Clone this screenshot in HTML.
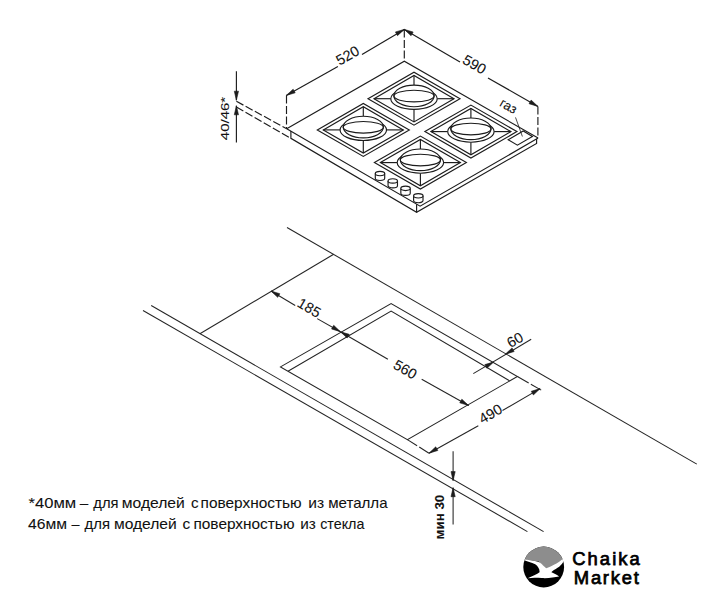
<!DOCTYPE html>
<html><head><meta charset="utf-8">
<style>
html,body{margin:0;padding:0;background:#fff;}
body{width:725px;height:603px;overflow:hidden;position:relative;}
svg{position:absolute;left:0;top:0;}
text{font-family:"Liberation Sans",sans-serif;fill:#111;stroke:#111;stroke-width:0.08px;}
.logo text{stroke:#000;stroke-width:0.75px;fill:#000}
</style></head><body>
<svg width="725" height="603" viewBox="0 0 725 603">
<g fill="none" stroke="#1c1c1c" stroke-width="1.15" stroke-linecap="butt" stroke-linejoin="miter">
<polyline points="286.70,128.70 404.30,61.20 538.10,138.10" fill="none"/>
<polyline points="286.70,128.70 420.10,206.20 538.10,138.10" fill="none"/>
<polyline points="290.90,131.10 290.90,138.30 416.60,212.30 536.60,143.40 536.60,139.00" fill="none"/>
<line x1="416.60" y1="204.20" x2="416.60" y2="212.30"/>
<polygon points="317.30,129.90 363.30,103.40 409.30,129.90 363.30,156.40" fill="none"/>
<polygon points="323.30,129.90 363.30,106.70 403.30,129.90 363.30,153.10" fill="none"/>
<line x1="323.30" y1="129.90" x2="340.10" y2="129.90"/>
<line x1="386.50" y1="129.90" x2="403.30" y2="129.90"/>
<line x1="363.30" y1="106.70" x2="363.30" y2="116.30"/>
<line x1="363.30" y1="140.50" x2="363.30" y2="153.10"/>
<ellipse cx="363.30" cy="129.90" rx="23.2" ry="10.6" fill="#fff"/>
<ellipse cx="363.30" cy="127.10" rx="20.1" ry="10.8" fill="#fff"/>
<ellipse cx="363.30" cy="127.30" rx="20.1" ry="5.8" fill="none"/>
<polygon points="368.00,98.70 414.00,72.20 460.00,98.70 414.00,125.20" fill="none"/>
<polygon points="374.00,98.70 414.00,75.50 454.00,98.70 414.00,121.90" fill="none"/>
<line x1="374.00" y1="98.70" x2="390.80" y2="98.70"/>
<line x1="437.20" y1="98.70" x2="454.00" y2="98.70"/>
<line x1="414.00" y1="75.50" x2="414.00" y2="85.10"/>
<line x1="414.00" y1="109.30" x2="414.00" y2="121.90"/>
<ellipse cx="414.00" cy="98.70" rx="23.2" ry="10.6" fill="#fff"/>
<ellipse cx="414.00" cy="95.90" rx="20.1" ry="10.8" fill="#fff"/>
<ellipse cx="414.00" cy="96.10" rx="20.1" ry="5.8" fill="none"/>
<polygon points="424.90,131.60 470.90,105.10 516.90,131.60 470.90,158.10" fill="none"/>
<polygon points="430.90,131.60 470.90,108.40 510.90,131.60 470.90,154.80" fill="none"/>
<line x1="430.90" y1="131.60" x2="447.70" y2="131.60"/>
<line x1="494.10" y1="131.60" x2="510.90" y2="131.60"/>
<line x1="470.90" y1="108.40" x2="470.90" y2="118.00"/>
<line x1="470.90" y1="142.20" x2="470.90" y2="154.80"/>
<ellipse cx="470.90" cy="131.60" rx="23.2" ry="10.6" fill="#fff"/>
<ellipse cx="470.90" cy="128.80" rx="20.1" ry="10.8" fill="#fff"/>
<ellipse cx="470.90" cy="129.00" rx="20.1" ry="5.8" fill="none"/>
<polygon points="374.40,162.60 420.40,136.10 466.40,162.60 420.40,189.10" fill="none"/>
<polygon points="380.40,162.60 420.40,139.40 460.40,162.60 420.40,185.80" fill="none"/>
<line x1="380.40" y1="162.60" x2="397.20" y2="162.60"/>
<line x1="443.60" y1="162.60" x2="460.40" y2="162.60"/>
<line x1="420.40" y1="139.40" x2="420.40" y2="149.00"/>
<line x1="420.40" y1="173.20" x2="420.40" y2="185.80"/>
<ellipse cx="420.40" cy="162.60" rx="23.2" ry="10.6" fill="#fff"/>
<ellipse cx="420.40" cy="159.80" rx="20.1" ry="10.8" fill="#fff"/>
<ellipse cx="420.40" cy="160.00" rx="20.1" ry="5.8" fill="none"/>
<path d="M375.30,173.50 L375.30,178.30 A4.7,2.2 0 0 0 384.70,178.30 L384.70,173.50" fill="#fff"/>
<ellipse cx="380.00" cy="173.50" rx="4.7" ry="2.2" fill="#fff"/>
<path d="M388.07,180.93 L388.07,185.73 A4.7,2.2 0 0 0 397.47,185.73 L397.47,180.93" fill="#fff"/>
<ellipse cx="392.77" cy="180.93" rx="4.7" ry="2.2" fill="#fff"/>
<path d="M400.84,188.36 L400.84,193.16 A4.7,2.2 0 0 0 410.24,193.16 L410.24,188.36" fill="#fff"/>
<ellipse cx="405.54" cy="188.36" rx="4.7" ry="2.2" fill="#fff"/>
<path d="M413.61,195.79 L413.61,200.59 A4.7,2.2 0 0 0 423.01,200.59 L423.01,195.79" fill="#fff"/>
<ellipse cx="418.31" cy="195.79" rx="4.7" ry="2.2" fill="#fff"/>
<polygon points="508.20,139.70 517.40,145.20 532.40,136.50 523.20,131.00" fill="none"/>
<line x1="515.50" y1="117.40" x2="522.40" y2="136.50" stroke-width="0.8"/>
<line x1="286.50" y1="95.40" x2="286.50" y2="128.70" stroke-dasharray="8,2.5"/>
<line x1="404.30" y1="29.40" x2="404.30" y2="61.20" stroke-dasharray="8,2.5"/>
<line x1="537.90" y1="106.40" x2="537.90" y2="138.10" stroke-dasharray="8,2.5"/>
<line x1="286.30" y1="95.40" x2="337.90" y2="66.40"/>
<line x1="362.00" y1="54.50" x2="404.30" y2="29.40"/>
<line x1="404.30" y1="29.40" x2="460.00" y2="62.00"/>
<line x1="488.00" y1="78.00" x2="537.90" y2="106.40"/>
<polygon points="286.30,95.40 293.13,89.17 295.18,92.84" fill="#1c1c1c" stroke="#1c1c1c" stroke-width="0.6" stroke-linejoin="miter"/>
<polygon points="404.30,29.40 397.47,35.63 395.42,31.96" fill="#1c1c1c" stroke="#1c1c1c" stroke-width="0.6" stroke-linejoin="miter"/>
<polygon points="404.30,29.40 413.15,32.07 411.05,35.71" fill="#1c1c1c" stroke="#1c1c1c" stroke-width="0.6" stroke-linejoin="miter"/>
<polygon points="537.90,106.40 529.05,103.73 531.15,100.09" fill="#1c1c1c" stroke="#1c1c1c" stroke-width="0.6" stroke-linejoin="miter"/>
<text x="347.50" y="55.50" font-size="14.5" text-anchor="middle" dominant-baseline="central" transform="rotate(-29.50 347.50 55.50)" >520</text>
<text x="474.50" y="64.50" font-size="14.5" text-anchor="middle" dominant-baseline="central" transform="rotate(29.80 474.50 64.50)" >590</text>
<text x="508.50" y="106.00" font-size="13" text-anchor="middle" dominant-baseline="central" transform="rotate(30.00 508.50 106.00)" >газ</text>
<line x1="236.40" y1="71.30" x2="236.40" y2="100.20"/>
<line x1="236.40" y1="105.80" x2="236.40" y2="142.50"/>
<polygon points="236.40,100.20 234.30,91.20 238.50,91.20" fill="#1c1c1c" stroke="#1c1c1c" stroke-width="0.6" stroke-linejoin="miter"/>
<polygon points="236.40,105.80 238.50,114.80 234.30,114.80" fill="#1c1c1c" stroke="#1c1c1c" stroke-width="0.6" stroke-linejoin="miter"/>
<line x1="236.40" y1="101.30" x2="286.70" y2="128.70" stroke-dasharray="8,2.5"/>
<line x1="236.40" y1="107.00" x2="290.90" y2="138.30" stroke-dasharray="8,2.5"/>
<text transform="translate(228.6,140.2) rotate(-90)" x="0" y="0" font-size="11.5" textLength="43.4" lengthAdjust="spacingAndGlyphs">40/46*</text>
</g><g fill="none" stroke="#242424" stroke-width="1.05">
<line x1="287.00" y1="227.50" x2="696.80" y2="464.10"/>
<line x1="151.20" y1="305.50" x2="543.60" y2="531.60"/>
<line x1="143.00" y1="310.50" x2="527.40" y2="531.60"/>
<line x1="199.90" y1="333.70" x2="333.70" y2="254.20"/>
<polygon points="280.50,366.90 391.10,303.60 517.40,376.50 407.40,439.60" fill="none"/>
<polyline points="288.00,371.20 391.10,311.10 509.50,380.70" fill="none"/>
<line x1="517.40" y1="376.50" x2="541.20" y2="390.10" stroke-dasharray="13,2.5"/>
<line x1="407.40" y1="439.60" x2="429.00" y2="453.20" stroke-dasharray="11.5,2.5"/>
<line x1="271.00" y1="291.00" x2="295.20" y2="305.50"/>
<line x1="317.20" y1="318.60" x2="340.40" y2="331.70"/>
<polygon points="271.00,291.00 279.83,293.74 277.70,297.36" fill="#1c1c1c" stroke="#1c1c1c" stroke-width="0.6" stroke-linejoin="miter"/>
<polygon points="340.40,331.70 331.57,328.96 333.70,325.34" fill="#1c1c1c" stroke="#1c1c1c" stroke-width="0.6" stroke-linejoin="miter"/>
<text x="309.30" y="307.80" font-size="14.5" text-anchor="middle" dominant-baseline="central" transform="rotate(30.00 309.30 307.80)" >185</text>
<line x1="340.40" y1="331.70" x2="387.90" y2="359.30"/>
<line x1="421.70" y1="379.30" x2="468.60" y2="405.50"/>
<polygon points="340.40,331.70 349.25,334.37 347.15,338.01" fill="#1c1c1c" stroke="#1c1c1c" stroke-width="0.6" stroke-linejoin="miter"/>
<polygon points="468.60,405.50 459.75,402.83 461.85,399.19" fill="#1c1c1c" stroke="#1c1c1c" stroke-width="0.6" stroke-linejoin="miter"/>
<text x="405.20" y="369.50" font-size="14.5" text-anchor="middle" dominant-baseline="central" transform="rotate(30.00 405.20 369.50)" >560</text>
<line x1="473.30" y1="373.60" x2="531.20" y2="339.30"/>
<polygon points="493.70,362.00 486.91,368.27 484.84,364.62" fill="#1c1c1c" stroke="#1c1c1c" stroke-width="0.6" stroke-linejoin="miter"/>
<polygon points="505.30,354.20 512.05,347.89 514.15,351.53" fill="#1c1c1c" stroke="#1c1c1c" stroke-width="0.6" stroke-linejoin="miter"/>
<text x="515.00" y="339.80" font-size="14.5" text-anchor="middle" dominant-baseline="central" transform="rotate(-30.00 515.00 339.80)" >60</text>
<line x1="429.00" y1="453.20" x2="478.30" y2="425.70"/>
<line x1="502.50" y1="410.50" x2="540.10" y2="388.60"/>
<polygon points="429.00,453.20 435.72,446.86 437.84,450.49" fill="#1c1c1c" stroke="#1c1c1c" stroke-width="0.6" stroke-linejoin="miter"/>
<polygon points="540.10,388.60 533.38,394.94 531.26,391.31" fill="#1c1c1c" stroke="#1c1c1c" stroke-width="0.6" stroke-linejoin="miter"/>
<text x="490.50" y="413.80" font-size="14.5" text-anchor="middle" dominant-baseline="central" transform="rotate(-30.00 490.50 413.80)" >490</text>
<line x1="453.10" y1="451.30" x2="453.10" y2="480.60"/>
<line x1="453.10" y1="487.70" x2="453.10" y2="524.50"/>
<polygon points="453.10,480.60 451.00,471.60 455.20,471.60" fill="#1c1c1c" stroke="#1c1c1c" stroke-width="0.6" stroke-linejoin="miter"/>
<polygon points="453.10,487.70 455.20,496.70 451.00,496.70" fill="#1c1c1c" stroke="#1c1c1c" stroke-width="0.6" stroke-linejoin="miter"/>
<text transform="translate(443.6,539.4) rotate(-90)" x="0" y="0" font-size="12" font-weight="bold" textLength="44.6" lengthAdjust="spacingAndGlyphs">мин 30</text>
</g>
<g font-size="15">
<text x="28.60" y="508.0" textLength="47.68" lengthAdjust="spacingAndGlyphs">*40мм</text>
<text x="79.80" y="508.0" textLength="8.53" lengthAdjust="spacingAndGlyphs">–</text>
<text x="93.30" y="508.0" textLength="25.23" lengthAdjust="spacingAndGlyphs">для</text>
<text x="121.76" y="508.0" textLength="63.07" lengthAdjust="spacingAndGlyphs">моделей</text>
<text x="190.90" y="508.0" textLength="7.61" lengthAdjust="spacingAndGlyphs">с</text>
<text x="200.57" y="508.0" textLength="101.08" lengthAdjust="spacingAndGlyphs">поверхностью</text>
<text x="308.26" y="508.0" textLength="15.82" lengthAdjust="spacingAndGlyphs">из</text>
<text x="328.19" y="508.0" textLength="59.37" lengthAdjust="spacingAndGlyphs">металла</text>
<text x="28.10" y="528.7" textLength="39.02" lengthAdjust="spacingAndGlyphs">46мм</text>
<text x="71.60" y="528.7" textLength="8.06" lengthAdjust="spacingAndGlyphs">–</text>
<text x="84.60" y="528.7" textLength="25.43" lengthAdjust="spacingAndGlyphs">для</text>
<text x="113.96" y="528.7" textLength="62.76" lengthAdjust="spacingAndGlyphs">моделей</text>
<text x="182.60" y="528.7" textLength="7.71" lengthAdjust="spacingAndGlyphs">с</text>
<text x="193.47" y="528.7" textLength="100.98" lengthAdjust="spacingAndGlyphs">поверхностью</text>
<text x="300.28" y="528.7" textLength="15.60" lengthAdjust="spacingAndGlyphs">из</text>
<text x="320.20" y="528.7" textLength="44.21" lengthAdjust="spacingAndGlyphs">стекла</text>
</g>
<g>
<defs><clipPath id="lc"><circle cx="543.7" cy="567" r="20.4"/></clipPath></defs>
<g clip-path="url(#lc)">
<rect x="520" y="540" width="50" height="55" fill="#000"/>
<g transform="translate(520,555) scale(0.06623)">
<path d="M-20,70 L-20,-250 L720,-250 L720,40 L 600,130 L 395,215 L 280,100 L 60,68 Z" fill="#8d8d8d"/>
<path d="M40,58 C150,80 250,85 300,115 C340,145 370,185 395,200 C450,180 560,140 680,30 C662,110 620,165 540,210 C500,230 475,250 475,262 C520,280 560,300 590,325 C520,335 430,355 330,348 C250,342 180,340 115,352 C180,320 260,295 295,262 C300,220 275,170 230,140 C170,115 110,100 40,70 Z" fill="#fff"/>
</g>
</g>
</g>
<g font-size="18.4" class="logo">
<text x="572.2" y="565.4" textLength="67.6" lengthAdjust="spacing">Chaika</text>
<text x="573.8" y="584.2" textLength="65.0" lengthAdjust="spacing">Market</text>
</g>
</svg>
</body></html>
